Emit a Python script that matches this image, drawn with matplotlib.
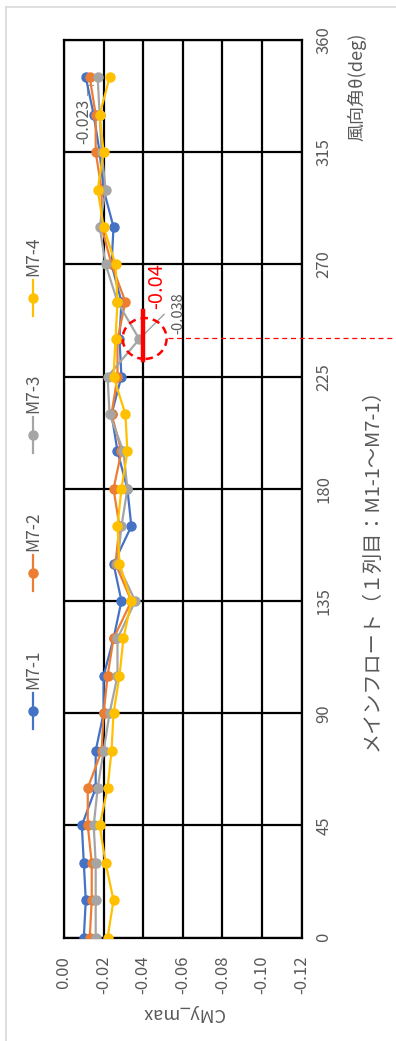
import numpy as np
import matplotlib
matplotlib.use('Agg')
import matplotlib.pyplot as plt
from matplotlib.lines import Line2D
from matplotlib.patches import Ellipse

plt.rcParams['font.family'] = ['Noto Sans CJK JP', 'DejaVu Sans']

# wind direction (deg)
theta = [0, 15, 30, 45, 60, 75, 90, 105, 120, 135, 150, 165,
         180, 195, 210, 225, 240, 255, 270, 285, 300, 315, 330, 345]

m7_1 = [-0.010, -0.011, -0.010, -0.009, -0.016, -0.016, -0.020, -0.020, -0.025, -0.029, -0.025, -0.034,
        -0.032, -0.027, -0.024, -0.029, -0.028, -0.029, -0.024, -0.025, -0.020, -0.018, -0.015, -0.011]
m7_2 = [-0.013, -0.014, -0.014, -0.012, -0.012, -0.019, -0.020, -0.022, -0.025, -0.034, -0.026, -0.028,
        -0.025, -0.029, -0.024, -0.027, -0.027, -0.031, -0.024, -0.019, -0.019, -0.016, -0.016, -0.013]
m7_3 = [-0.016, -0.016, -0.016, -0.015, -0.017, -0.020, -0.023, -0.027, -0.027, -0.036, -0.027, -0.029,
        -0.032, -0.030, -0.023, -0.022, -0.038, -0.027, -0.021, -0.018, -0.021, -0.019, -0.018, -0.017]
m7_4 = [-0.022, -0.025, -0.021, -0.018, -0.022, -0.024, -0.025, -0.028, -0.030, -0.034, -0.028, -0.027,
        -0.029, -0.032, -0.031, -0.025, -0.026, -0.027, -0.026, -0.020, -0.017, -0.020, -0.018, -0.023]

names = ['M7-1', 'M7-2', 'M7-3', 'M7-4']
colors = ['#4472C4', '#ED7D31', '#A5A5A5', '#FFC000']
series = [m7_1, m7_2, m7_3, m7_4]

x_ticks = [0.00, -0.02, -0.04, -0.06, -0.08, -0.10, -0.12]
y_ticks = [0, 45, 90, 135, 180, 225, 270, 315, 360]

W, H = 396, 1041
txt = '#595959'

fig = plt.figure(figsize=(W / 100, H / 100), dpi=100)
ax = fig.add_axes([64 / W, 1 - 937.7 / H, (301.7 - 64) / W, (937.7 - 40) / H])

# light border of the screenshot
fig.add_artist(Line2D([6 / W, 6 / W], [0, 1 - 7 / H], color='#d9d9d9', lw=1.2))
fig.add_artist(Line2D([6 / W, 1], [1 - 7 / H, 1 - 7 / H], color='#d9d9d9', lw=1.2))

for s, c, n in zip(series, colors, names):
    ax.plot(s, theta, color=c, lw=1.6, marker='o', ms=6.5, label=n, zorder=3)

ax.set_xlim(0.0, -0.12)
ax.set_ylim(0, 360)
ax.set_xticks(x_ticks)
ax.set_xticklabels(['%.2f' % v for v in x_ticks], rotation=90, color=txt, fontsize=12)
ax.set_yticks(y_ticks)
ax.yaxis.tick_right()
ax.set_yticklabels([str(v) for v in y_ticks], rotation=90, va='center', color=txt, fontsize=12)
ax.tick_params(axis='x', length=0, pad=13)
ax.tick_params(axis='y', length=0, pad=10)
ax.grid(True, color='black', lw=1.6, zorder=1)
for sp in ax.spines.values():
    sp.set_color('black')
    sp.set_linewidth(1.6)

# data labels
ax.text(m7_4[-1] + 0.0128, theta[-1] - 17.5, '-0.023', rotation=90, color=txt,
        fontsize=11.5, ha='center', va='center')
ax.plot([-0.0118, -0.0118, -0.0145], [338, 342, 342], color='#a0a0a0', lw=0.8)

i = theta.index(240)
g = m7_3[i]
ax.plot([g, g - 0.0125], [240, 250], color='#a0a0a0', lw=1.0, zorder=4)
ax.text(g - 0.0198, 250.5, '%.3f' % g, rotation=90, color=txt, fontsize=10.5,
        ha='center', va='center')
ax.text(-0.047, 261.5, '-0.04', rotation=90, color='red', fontsize=14.5,
        ha='center', va='center')
ax.plot([-0.04, -0.04], [231.7, 251.3], color='red', lw=3.2, zorder=5)
ax.add_patch(Ellipse((-0.0407, 240.3), 0.0222, 16.4, fill=False, ec='red',
                     lw=1.8, ls=(0, (3, 2)), zorder=5))
ax.plot([-0.0525, -0.17], [240.3, 240.3], color='red', lw=0.9, ls=(0, (4, 3)),
        clip_on=False, zorder=5)

# legend (rotated)
legend_y = [711, 573, 435, 298]
for n, c, ly in zip(names, colors, legend_y):
    fig.add_artist(Line2D([33 / W, 33 / W], [1 - (ly + 18) / H, 1 - (ly - 18) / H],
                          color=c, lw=1.6))
    fig.add_artist(Line2D([33 / W], [1 - ly / H], color=c, marker='o', ms=6.5))
    fig.text(33 / W, 1 - (ly - 22) / H, n, rotation=90, ha='center', va='bottom',
             color=txt, fontsize=12.5)

# axis titles
fig.text(357 / W, 1 - 33 / H, '風向角θ(deg)', rotation=90, ha='center', va='top',
         color=txt, fontsize=13)
fig.text(372 / W, 1 - 565 / H, 'メインフロート（１列目：M1-1～M7-1）', rotation=90,
         ha='center', va='center', color=txt, fontsize=14.5)
fig.text(183 / W, 1 - 1013 / H, 'CMy_max', rotation=180, ha='center', va='center',
         color=txt, fontsize=13)

fig.savefig('out.png', dpi=100)
